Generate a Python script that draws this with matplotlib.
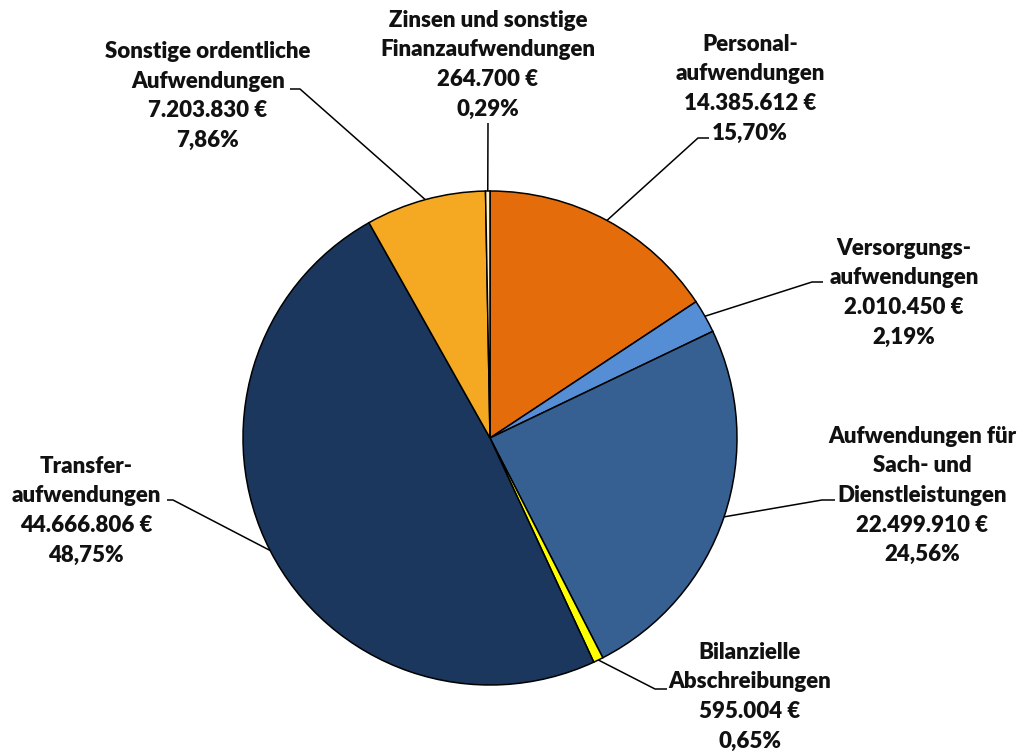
import numpy as np
import matplotlib.pyplot as plt

# Aufwendungen nach Arten (Euro)
kategorien = [
    "Personal-\naufwendungen",
    "Versorgungs-\naufwendungen",
    "Aufwendungen für\nSach- und\nDienstleistungen",
    "Bilanzielle\nAbschreibungen",
    "Transfer-\naufwendungen",
    "Sonstige ordentliche\nAufwendungen",
    "Zinsen und sonstige\nFinanzaufwendungen",
]
betraege = [14385612, 2010450, 22499910, 595004, 44666806, 7203830, 264700]
farben = ["#E46C0A", "#558ED5", "#376092", "#FFFF00", "#1B375E", "#F5A922", "#FFF2CC"]

# label centre (x, y of first line) and elbow of the leader line, in pixels from top-left
label_pos = [(750, 46), (904, 250), (922, 438), (750, 654), (86, 468), (208, 53), (488, 22)]
elbows = [((698, 138), (709, 138)),
          ((812, 282), (823, 282)),
          ((822, 500), (835, 500)),
          ((655, 689), (667, 689)),
          ((173, 500), (167, 500)),
          ((300, 89), (290, 89)),
          ((488, 123), (488, 123))]

W, H = 1020, 751
cx, cy, r = 490, 438, 247


def fy(y):
    return H - y


def euro(v):
    return f"{v:,}".replace(",", ".") + " €"


plt.rcParams['font.family'] = ['Lato', 'DejaVu Sans']

fig = plt.figure(figsize=(W / 100, H / 100), dpi=100)
ax = fig.add_axes([0, 0, 1, 1])

wedges, _ = ax.pie(betraege, colors=farben, startangle=90, counterclock=False,
                   center=(cx, fy(cy)), radius=r,
                   wedgeprops=dict(edgecolor="black", linewidth=1.1))
ax.set_xlim(0, W)
ax.set_ylim(0, H)
ax.axis("off")

total = sum(betraege)
for w, name, val, (lx, ly), (e1, e2) in zip(wedges, kategorien, betraege, label_pos, elbows):
    mid = np.deg2rad((w.theta1 + w.theta2) / 2)
    px = cx + r * np.cos(mid)
    py = fy(cy) + r * np.sin(mid)
    ax.plot([px, e1[0], e2[0]], [py, fy(e1[1]), fy(e2[1])], color="black", lw=1.1,
            solid_capstyle="butt", zorder=0)
    pct = f"{val / total * 100:.2f}%".replace(".", ",")
    txt = f"{name}\n{euro(val)}\n{pct}"
    ax.text(lx, fy(ly - 12), txt, ha="center", va="top", fontsize=16,
            fontweight="heavy", linespacing=1.5, color="#111111")

fig.savefig("out.png", dpi=100)
